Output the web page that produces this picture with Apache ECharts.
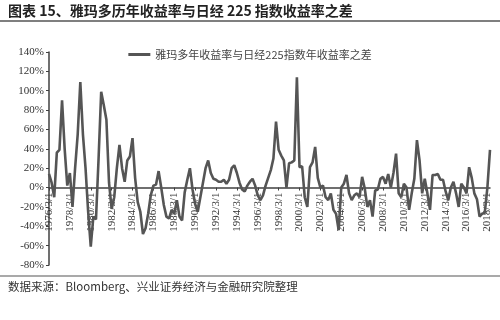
<!DOCTYPE html>
<html>
<head>
<meta charset="utf-8">
<script src="https://cdn.jsdelivr.net/npm/echarts@6/dist/echarts.min.js"></script>
<style>
  html, body { margin: 0; padding: 0; background: #fff; }
  #chart { width: 500px; height: 320px; }
</style>
</head>
<body>
<div id="chart"></div>
<script>
// quarterly dates from 1976/3/1
const startYear = 1976;
const pointCount = 170;
const dates = [];
for (let i = 0; i < pointCount; i++) {
  dates.push((startYear + Math.floor(i / 4)) + "/" + (3 + 3 * (i % 4)) + "/1");
}

// difference of annual returns, %
const diffValues = [
  14, 5, -10, 36, 39, 90, 40, 2, 15, -20,
  20, 55, 109, 55, 20, -25, -61, -30, -33, 30,
  99, 85, 70, 5, -22, -10, 20, 44, 20, 6,
  28, 32, 51, 10, -15, -25, -48, -42, -27, -8,
  2, 3, 17, 0, -18, -30, -32, -23, -27, -13,
  -30, -34, -5, 8, 20, -2, -17, -25, -10, 5,
  20, 28, 15, 9, 8, 6, 6, 8, 4, 8,
  20, 23, 15, 5, -2, -4, 2, 6, 9, 2,
  -8, -13, -8, 2, 10, 18, 30, 68, 39, 33,
  28, 0, 25, 26, 28, 114, 21, 22, -10, -20,
  21, 26, 42, 10, 0, 2, -10, -13, -6, -23,
  -27, -44, 0, 4, 13, -6, -13, -8, -6, -10,
  11, -1, -20, -13, -30, -3, -2, 9, 11, 4,
  14, 0, 15, 35, -6, -10, 4, 0, -23, -6,
  9, 49, 28, -6, 9, -6, -23, 13, 13, 14,
  8, 8, -4, -13, 0, 6, -6, -20, 4, 0,
  -6, 21, 10, -6, -12, -30, -27, -26, 0, 39
];

const seriesName = "雅玛多年收益率与日经225指数年收益率之差";
const titleText = "图表 15、雅玛多历年收益率与日经 225 指数收益率之差";
const sourceText = "数据来源：Bloomberg、兴业证券经济与金融研究院整理";

const peakIndex = diffValues.indexOf(Math.max(...diffValues));
const seriesData = diffValues.map((v, i) =>
  i === peakIndex
    ? { value: v, label: { show: true, position: "right", distance: 8, formatter: "{c}%" } }
    : v
);

const chart = echarts.init(document.getElementById("chart"));
const serif = "'Liberation Serif', 'Times New Roman', serif";
const cjk = "'Noto Sans CJK SC', sans-serif";
const gridBottom = 55;

const option = {
  animation: false,
  backgroundColor: "#fff",
  graphic: [
    {
      type: "text", left: 8, top: 4,
      style: { text: titleText, font: "bold 14px " + cjk, fill: "#222" }
    },
    {
      type: "line", shape: { x1: 0, y1: 21, x2: 500, y2: 21 },
      style: { stroke: "#555", lineWidth: 1.5 }
    },
    {
      type: "line", shape: { x1: 0, y1: 276, x2: 500, y2: 276 },
      style: { stroke: "#555", lineWidth: 1.2 }
    },
    {
      type: "text", left: 8, top: 281,
      style: { text: sourceText, font: "11.5px " + cjk, fill: "#333" }
    }
  ],
  legend: {
    top: 44,
    left: "center",
    icon: "rect",
    itemWidth: 22,
    itemHeight: 3,
    itemGap: 2,
    textStyle: { fontFamily: cjk, fontSize: 11, color: "#444" },
    data: [seriesName]
  },
  grid: { left: 49, right: 10, top: 52, bottom: gridBottom },
  xAxis: {
    type: "category",
    data: dates,
    boundaryGap: false,
    offset: 0,
    axisLine: { onZero: false, lineStyle: { color: "#404040", width: 1.5 } },
    axisTick: { show: true, interval: 7, length: 3, lineStyle: { color: "#404040" } },
    axisLabel: {
      interval: 7,
      rotate: 90,
      fontFamily: serif,
      fontSize: 11,
      color: "#333",
      margin: 5
    },
    splitLine: { show: false }
  },
  yAxis: {
    type: "value",
    min: -80,
    max: 140,
    interval: 20,
    axisLine: { show: true, lineStyle: { color: "#404040", width: 1.5 } },
    axisTick: { show: true, length: 3, lineStyle: { color: "#404040" } },
    axisLabel: {
      formatter: "{value}%",
      fontFamily: serif,
      fontSize: 11,
      color: "#333",
      margin: 5
    },
    splitLine: { show: false }
  },
  series: [
    {
      name: seriesName,
      type: "line",
      data: seriesData,
      symbol: "none",
      lineStyle: { color: "#555", width: 2.6 },
      itemStyle: { color: "#555" },
      label: { fontFamily: serif, fontSize: 11, color: "#222" }
    }
  ]
};

chart.setOption(option);

// move the category axis (line + labels) up to the 0% level
const zeroY = chart.convertToPixel({ yAxisIndex: 0 }, 0);
const bottomY = chart.getHeight() - gridBottom;
chart.setOption({ xAxis: { offset: -(bottomY - zeroY) } });
</script>
</body>
</html>
